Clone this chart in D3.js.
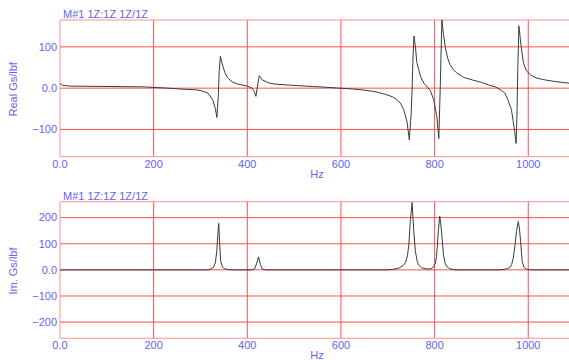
<!DOCTYPE html>
<html lang="en">
<head>
<meta charset="UTF-8">
<title>FRF Real / Imag</title>
<script src="https://d3js.org/d3.v7.min.js"></script>
<style>
  body { margin: 0; background: #fff; }
  svg { display: block; }
  text { font-family: "Liberation Sans", Arial, sans-serif; font-size: 11px; fill: #6464f4; }
</style>
</head>
<body>
<svg width="569" height="360"></svg>
<script>
// Frequency axis
const freqTicks = [0, 200, 400, 600, 800, 1000];
const freqTickLabels = ["0.0", "200", "400", "600", "800", "1000"];

// Real part
const realHz = [0, 5, 20, 100, 180, 230, 270, 290, 301, 316, 326, 332, 335, 338, 340, 342.5, 346, 352, 358, 368, 379, 400, 410, 415, 418.5, 421, 425.5, 432, 445, 457, 480, 510, 539, 570, 596, 625, 652, 675, 695, 710, 720, 728, 734, 741, 746, 750, 752, 754, 756, 759, 762, 766, 770, 777, 784, 791, 798, 805, 809, 812, 815.5, 819, 823, 828, 833, 840, 847, 862, 880, 900, 915, 930, 943, 950, 957, 964, 968, 971, 974, 976, 977.5, 980, 983, 986, 990, 996, 1005, 1014, 1030, 1057, 1087];
const realVal = [12, 7, 5, 4, 3, 0, -3, -4, -6, -12, -28, -50, -71, -20, 40, 77, 60, 38, 25, 15, 10, 5, 0, -8, -20, 0, 30, 20, 13, 10, 8, 6, 4, 2, 0, -2, -5, -9, -15, -21, -28, -38, -52, -81, -125, -60, 0, 80, 126, 100, 62, 45, 28, 12, 3, -6, -28, -70, -122, 0, 165, 130, 98, 72, 57, 45, 37, 26, 20, 14, 8, 3, -6, -12, -30, -52, -81, -105, -134, -60, 40, 151, 120, 90, 60, 42, 32, 26, 21, 16, 12];

// Imaginary part
const imagHz = [0, 315, 322, 328, 332, 335, 337, 339, 341, 343, 347, 352, 360, 370, 410, 416, 420, 424, 428, 432, 440, 700, 715, 725, 733, 738, 742, 745, 748, 752, 755, 759, 763, 766, 772, 784, 792, 797, 801.5, 804, 806, 808, 811, 813, 815.5, 819, 822, 826, 832, 840, 850, 940, 955, 961, 964.5, 968, 971.7, 975, 978.7, 981, 983.7, 987, 991, 996, 1005, 1087];
const imagVal = [0, 0, 3, 10, 30, 75, 135, 178, 100, 35, 10, 4, 1, 0, 0, 5, 25, 50, 20, 3, 0, 0, 3, 8, 17, 28, 55, 95, 185, 258, 160, 70, 32, 18, 8, 3, 4, 10, 25, 50, 95, 150, 205, 180, 133, 56, 28, 12, 5, 1, 0, 0, 4, 10, 20, 45, 95, 150, 185, 160, 108, 31, 10, 3, 0, 0];

const realTicks = [-100, 0, 100];
const realTickLabels = ["\u2212100", "0.0", "100"];
const imagTicks = [-200, -100, 0, 100, 200];
const imagTickLabels = ["\u2212200", "\u2212100", "0.0", "100", "200"];

const svg = d3.select("svg");
const W = 569;
const left = 60;

const x = d3.scaleLinear().domain([0, 1087]).range([left, W]);

function drawPanel(id, top, bottom, yDomain, yTicks, yLabels, hz, vals, yTitle) {
    const y = d3.scaleLinear().domain(yDomain).range([bottom, top]);
    const g = svg.append("g");

    svg.append("clipPath").attr("id", id)
        .append("rect").attr("x", left).attr("y", top)
        .attr("width", W - left).attr("height", bottom - top);

    // grid
    g.selectAll(".hg").data(yTicks).join("line")
        .attr("x1", left).attr("x2", W)
        .attr("y1", d => y(d)).attr("y2", d => y(d))
        .attr("stroke", "#ff5050").attr("stroke-width", 1);
    g.selectAll(".vg").data(freqTicks.slice(1)).join("line")
        .attr("y1", top).attr("y2", bottom)
        .attr("x1", d => x(d)).attr("x2", d => x(d))
        .attr("stroke", "#ff5050").attr("stroke-width", 1);

    // frame
    g.append("path")
        .attr("d", `M${W},${top}H${left}V${bottom}H${W}`)
        .attr("fill", "none").attr("stroke", "#ff9090").attr("stroke-width", 1);

    // curve
    const pts = hz.map((h, i) => [h, vals[i]]);
    g.append("path")
        .datum(pts)
        .attr("clip-path", `url(#${id})`)
        .attr("fill", "none")
        .attr("stroke", "#3a3a3a")
        .attr("stroke-width", 1)
        .attr("d", d3.line().x(d => x(d[0])).y(d => y(d[1])));

    // y tick labels
    g.selectAll(".yl").data(yTicks).join("text")
        .attr("x", 57).attr("y", d => y(d))
        .attr("dy", "0.35em").attr("text-anchor", "end")
        .text((d, i) => yLabels[i]);

    // x tick labels
    g.selectAll(".xl").data(freqTicks).join("text")
        .attr("x", d => x(d)).attr("y", bottom + 7)
        .attr("dy", "0.35em").attr("text-anchor", "middle")
        .text((d, i) => freqTickLabels[i]);

    g.append("text").attr("x", 317).attr("y", bottom + 17)
        .attr("dy", "0.35em").attr("text-anchor", "middle").text("Hz");

    // title above plot
    g.append("text").attr("x", 63).attr("y", top - 6)
        .attr("dy", "0.35em").text("M#1 1Z:1Z 1Z/1Z");

    // y axis title
    g.append("text")
        .attr("transform", `translate(13,${(top + bottom) / 2 + 1}) rotate(-90)`)
        .attr("dy", "0.35em").attr("text-anchor", "middle")
        .text(yTitle);
}

drawPanel("clipTop", 20, 156.7, [-166, 165], realTicks, realTickLabels, realHz, realVal, "Real Gs/lbf");
drawPanel("clipBot", 201.7, 338.3, [-262, 261], imagTicks, imagTickLabels, imagHz, imagVal, "Im. Gs/lbf");
</script>
</body>
</html>
